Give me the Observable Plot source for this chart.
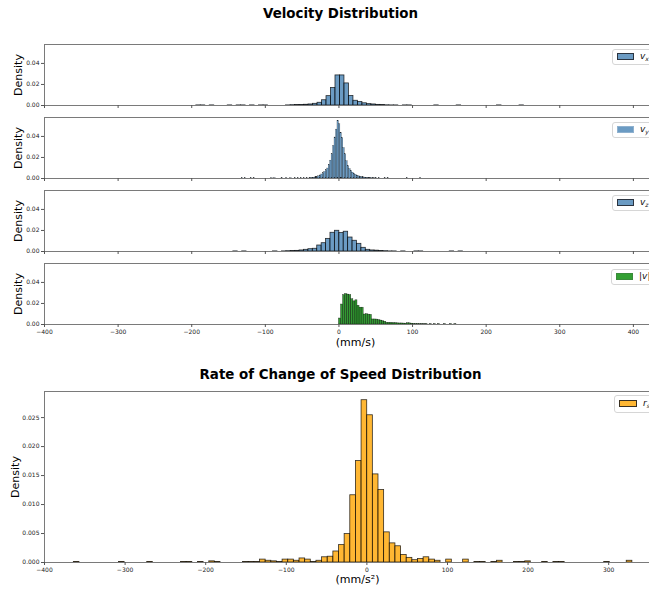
<!DOCTYPE html>
<html><head><meta charset="utf-8">
<script src="https://cdn.jsdelivr.net/npm/d3@7"></script>
<script src="https://cdn.jsdelivr.net/npm/@observablehq/plot@0.6"></script>
<style>
body{margin:0;background:#fff;font-family:"DejaVu Sans",sans-serif;}
#fig{position:relative;width:649px;height:589px;overflow:hidden;background:#fff;}
.title{position:absolute;left:0;width:681px;text-align:center;font-weight:bold;font-size:13.4px;line-height:15px;color:#000;}
.panel{position:absolute;left:0;max-width:none !important;}
.legend{position:absolute;background:#fff;border:1px solid #d6d6d6;border-radius:3px;width:60px;}
.sw{position:absolute;box-sizing:border-box;}
.lt{position:absolute;font-size:9px;font-style:italic;color:#111;white-space:nowrap;line-height:10px;}
.lt sub{font-size:6px;vertical-align:-2px;}
g[aria-label="y-axis label"], g[aria-label="x-axis label"]{font-size:11px;fill:#000;}
</style></head>
<body><div id="fig"></div>
<script>
// ---------- data ----------
const velTicks = [-400,-300,-200,-100,0,100,200,300,400];
const velDensityTicks = [0,0.02,0.04];
const rsTicks = [-400,-300,-200,-100,0,100,200,300];
const rsDensityTicks = [0,0.005,0.010,0.015,0.020,0.025];

// v_x
const vxStart = -65.7, vxWidth = 6.1;
const vxDensity = [0.0003,0.0004,0.0005,0.0007,0.0010,0.0016,0.0026,0.0050,0.0089,0.0167,0.0286,0.0286,0.0210,0.0090,0.0045,0.0033,0.0021,0.0013,0.0010,0.0006,0.0004,0.0002];
const vxTailStart = [-193.8,-187.7,-175.5,-151.1,-139.0,-132.9,-120.7,-108.5,-102.4,-71.8,68.5,74.6,86.8,92.9,129.5,159.9,214.8,245.3];
const vxTailDensity = [0.0001,0.0001,0.0001,0.0001,0.0001,0.0001,0.0001,0.0001,0.0001,0.0001,0.0001,0.0001,0.0001,0.0001,0.0001,0.0001,0.0001,0.0001];

// v_y
const vyStart = -40, vyWidth = 2;
const vyDensity = [0.0004,0.0005,0.0006,0.0008,0.0011,0.0015,0.0021,0.0029,0.0038,0.0050,0.0062,0.0078,0.0095,0.0130,0.0170,0.0230,0.0310,0.0390,0.0465,0.0550,0.0515,0.0435,0.0385,0.0290,0.0230,0.0165,0.0118,0.0090,0.0072,0.0056,0.0045,0.0035,0.0028,0.0021,0.0017,0.0013,0.0011,0.0009,0.0007,0.0006,0.0005,0.0004,0.0003,0.0002,0.0002];
const vyTailStart = [-132,-128,-120,-116,-92,-88,-78,-72,-66,-60,-56,-52,-48,-44,50,54,62,66,92,110];
const vyTailDensity = [0.0002,0.0002,0.0002,0.0002,0.0002,0.0002,0.0002,0.0002,0.0002,0.0002,0.0002,0.0002,0.0002,0.0002,0.0002,0.0002,0.0002,0.0002,0.0002,0.0002];

// v_z
const vzStart = -71.5, vzWidth = 6;
const vzDensity = [0.0003,0.0004,0.0006,0.0010,0.0016,0.0022,0.0026,0.0057,0.0079,0.0120,0.0178,0.0197,0.0175,0.0188,0.0133,0.0102,0.0073,0.0035,0.0016,0.0010,0.0008,0.0005,0.0003];
const vzTailStart = [-143.5,-131.5,-89.5,-77.5,66.5,72.5,84.5,102.5,108.5,150.5,162.5];
const vzTailDensity = [0.0001,0.0001,0.0001,0.0001,0.0001,0.0001,0.0001,0.0001,0.0001,0.0001,0.0001];

// |v|
const vmStart = 0, vmWidth = 2.8;
const vmDensity = [0.0057,0.0190,0.0280,0.0290,0.0285,0.0280,0.0240,0.0220,0.0230,0.0178,0.0160,0.0160,0.0095,0.0098,0.0094,0.0092,0.0048,0.0048,0.0047,0.0042,0.0038,0.0032,0.0026,0.0016,0.0016,0.0015,0.0013,0.0013,0.0011,0.0010,0.0010,0.0009,0.0008,0.0012,0.0011,0.0008,0.0005,0.0004,0.0004,0.0003,0.0003,0.0002,0.0003];
const vmTailStart = [123.2,128.8,134.4,142.8,151.2,156.8];
const vmTailDensity = [0.0002,0.0002,0.0002,0.0002,0.0002,0.0002];

// r_s
const rsStart = -132.6, rsWidth = 7;
const rsDensity = [0.0005,0.0003,0.0002,0.0001,0.0005,0.0005,0.0003,0.0007,0.0005,0.0001,0.0003,0.0009,0.0010,0.0019,0.0030,0.0049,0.0116,0.0175,0.0280,0.0254,0.0152,0.0125,0.0052,0.0033,0.0028,0.0013,0.0008,0.0004,0.0006,0.0009,0.0005,0.0003,0.0000,0.0005];
const rsTailStart = [-363.6,-307.6,-272.6,-230.6,-223.6,-209.6,-195.6,-188.6,-153.6,-146.6,-139.6,119.4,133.4,140.4,154.4,161.4,182.4,189.4,196.4,217.4,231.4,238.4,294.4,322.4];
const rsTailDensity = [0.0001,0.0001,0.0001,0.0001,0.0001,0.0001,0.0002,0.0001,0.0001,0.0001,0.0001,0.0005,0.0001,0.0001,0.0001,0.0003,0.0001,0.0001,0.0002,0.0001,0.0001,0.0001,0.0001,0.0003];

// ---------- build ----------
function rows(start, width, dens, tailStart, tailDens, tailWidth) {
  const r = dens.map((d, i) => ({x1: start + i * width, x2: start + (i + 1) * width, y: d}));
  tailStart.forEach((s, i) => r.push({x1: s, x2: s + tailWidth, y: tailDens[i]}));
  return r;
}
const fig = document.getElementById("fig");
function addTitle(text, top) {
  const d = document.createElement("div");
  d.className = "title"; d.textContent = text; d.style.top = top + "px";
  fig.appendChild(d);
}
function addLegend(left, top, h, color, border, sw, label) {
  const b = document.createElement("div");
  b.className = "legend";
  b.style.left = left + "px"; b.style.top = top + "px"; b.style.height = h + "px";
  const s = document.createElement("div");
  s.className = "sw";
  s.style.left = sw[0] + "px"; s.style.top = sw[1] + "px"; s.style.width = sw[2] + "px"; s.style.height = sw[3] + "px";
  s.style.background = color; s.style.border = border;
  b.appendChild(s);
  const t = document.createElement("div");
  t.className = "lt"; t.innerHTML = label;
  t.style.left = sw[4] + "px"; t.style.top = sw[5] + "px";
  b.appendChild(t);
  fig.appendChild(b);
}

const common = {fontFamily: "DejaVu Sans, sans-serif", fontSize: "6px", color: "#222", background: "transparent", overflow: "visible", maxWidth: "none"};

function velPanel(data, color, sw, swOp, showX, top) {
  const p = Plot.plot({
    width: 666, height: showX ? 90 : 66,
    marginLeft: 44, marginRight: 0, marginTop: 1, marginBottom: showX ? 28 : 4,
    x: {domain: [-400, 445]},
    y: {domain: [0, 0.058]},
    style: common,
    marks: [
      Plot.rectY(data, {x1: "x1", x2: "x2", y: "y", fill: color, fillOpacity: 0.8, stroke: "#000", strokeOpacity: swOp, strokeWidth: sw}),
      Plot.frame({stroke: "#7a7a7a", strokeWidth: 1}),
      Plot.axisY({ticks: velDensityTicks, tickFormat: d3.format(".2f"), tickSize: 3, tickPadding: 2, stroke: "#555",
        label: "Density", labelAnchor: "center", labelArrow: "none", labelOffset: 30}),
      Plot.axisX({ticks: velTicks, tickSize: 3, tickPadding: 2, stroke: "#555",
        tickFormat: showX ? d3.format("d") : () => "",
        label: showX ? "(mm/s)" : null, labelAnchor: "center", labelArrow: "none", labelOffset: 21})
    ]
  });
  p.classList.add("panel");
  p.style.maxWidth = "none";
  p.style.top = top + "px";
  fig.appendChild(p);
}

addTitle("Velocity Distribution", 6);
const tops = [44, 117, 190, 263];
velPanel(rows(vxStart, vxWidth, vxDensity, vxTailStart, vxTailDensity, vxWidth), "steelblue", 0.8, 0.8, false, tops[0] - 1);
velPanel(rows(vyStart, vyWidth, vyDensity, vyTailStart, vyTailDensity, vyWidth), "steelblue", 0.25, 0.8, false, tops[1] - 1);
velPanel(rows(vzStart, vzWidth, vzDensity, vzTailStart, vzTailDensity, vzWidth), "steelblue", 0.8, 0.8, false, tops[2] - 1);
velPanel(rows(vmStart, vmWidth, vmDensity, vmTailStart, vmTailDensity, vmWidth), "green", 0.4, 0.8, true, tops[3] - 1);

const swBox = [4, 3, 17, 7, 27, 1];
addLegend(612, tops[0] + 5, 14, "#6b9bc3", "1px solid #2b3440", swBox, "v<sub>x</sub>");
addLegend(612, tops[1] + 5, 14, "#6b9bc3", "1px solid #8fb1cf", swBox, "v<sub>y</sub>");
addLegend(612, tops[2] + 5, 14, "#6b9bc3", "1px solid #2b3440", swBox, "v<sub>z</sub>");
addLegend(611, tops[3] + 6, 14, "#33a033", "1px solid #3a8a3a", [4, 3, 17, 7, 27, 1], "<span style='font-style:normal'>|</span>v<span style='font-style:normal'>|</span>");

// rate of change chart
addTitle("Rate of Change of Speed Distribution", 367);
const rsPlot = Plot.plot({
  width: 670, height: 199,
  marginLeft: 44, marginRight: 0, marginTop: 1, marginBottom: 27,
  x: {domain: [-400, 376.7]},
  y: {domain: [0, 0.0295]},
  style: common,
  marks: [
    Plot.rectY(rows(rsStart, rsWidth, rsDensity, rsTailStart, rsTailDensity, rsWidth), {x1: "x1", x2: "x2", y: "y", fill: "orange", fillOpacity: 0.8, stroke: "#000", strokeOpacity: 0.8, strokeWidth: 0.8}),
    Plot.frame({stroke: "#7a7a7a", strokeWidth: 1}),
    Plot.axisY({ticks: rsDensityTicks, tickFormat: d3.format(".3f"), tickSize: 3, tickPadding: 2, stroke: "#555",
      label: "Density", labelAnchor: "center", labelArrow: "none", labelOffset: 33}),
    Plot.axisX({ticks: rsTicks, tickSize: 3, tickPadding: 2, stroke: "#555", tickFormat: d3.format("d"),
      label: "(mm/s²)", labelAnchor: "center", labelArrow: "none", labelOffset: 20})
  ]
});
rsPlot.classList.add("panel");
rsPlot.style.maxWidth = "none";
rsPlot.style.top = "390px";
fig.appendChild(rsPlot);
addLegend(614, 395, 16, "#ffb733", "1px solid #3a3020", [4, 4, 18, 7, 28, 2], "r<sub>s</sub>");
</script></body></html>
